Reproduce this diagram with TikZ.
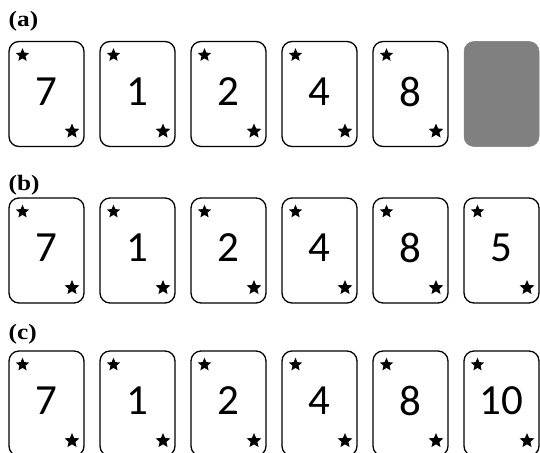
\documentclass[tikz,border=0pt]{standalone}
\usepackage{fontspec}
\setmainfont{Liberation Serif}
\newfontfamily\cardfont{Carlito}
\usetikzlibrary{shapes.geometric}
\begin{document}
\begin{tikzpicture}[x=1pt,y=-1pt,
  cardbox/.style={draw=black,line width=1.3pt,rounded corners=10pt,minimum width=75pt,minimum height=105pt,inner sep=0pt,fill=white},
  backbox/.style={fill=cardgray,draw=cardgray,line width=0.5pt,rounded corners=10pt,minimum width=75pt,minimum height=105pt,inner sep=0pt},
  numtext/.style={font=\cardfont\fontsize{43}{43}\selectfont,inner sep=0pt},
  starmark/.style={star,star points=5,star point ratio=2.2,fill=black,draw=none,minimum size=14pt,inner sep=0pt},
  bigstar/.style={starmark,minimum size=15.5pt},
  rowlabel/.style={font=\bfseries\fontsize{22}{22}\selectfont,anchor=base west,inner sep=0pt}]
\definecolor{cardgray}{RGB}{128,128,128}
\def\backmark{x}
\useasboundingbox (0,0) rectangle (540,452);
\clip (0,0) rectangle (540,452);
\node[rowlabel] (la) at (8.5,26.5) {\scalebox{1.15}[1]{(a)}};
\node[rowlabel] (lb) at (8.5,190.5) {\scalebox{1.15}[1]{(b)}};
\node[rowlabel] (lc) at (8.5,339.5) {\scalebox{1.15}[1]{(c)}};
\foreach \r/\top/\vals in {a/41.5/{7,1,2,4,8,x}, b/198/{7,1,2,4,8,5}, c/351/{7,1,2,4,8,10}}{
  \foreach \v [count=\i] in \vals {
    \pgfmathsetmacro{\cx}{9+91*(\i-1)+37.5}
    \pgfmathsetmacro{\cy}{\top+52.5}
    \ifx\v\backmark
      \node[backbox] (\r\i) at (\cx,\cy) {};
    \else
      \node[cardbox] (\r\i) at (\cx,\cy) {};
      \node[numtext] (\r\i n) at (\cx,\cy-2.5) {\v};
      \node[starmark] (\r\i s1) at (\cx-24,\cy-38.8) {};
      \node[bigstar] (\r\i s2) at (\cx+25.5,\cy+37.3) {};
    \fi
  }
}
\end{tikzpicture}
\end{document}
